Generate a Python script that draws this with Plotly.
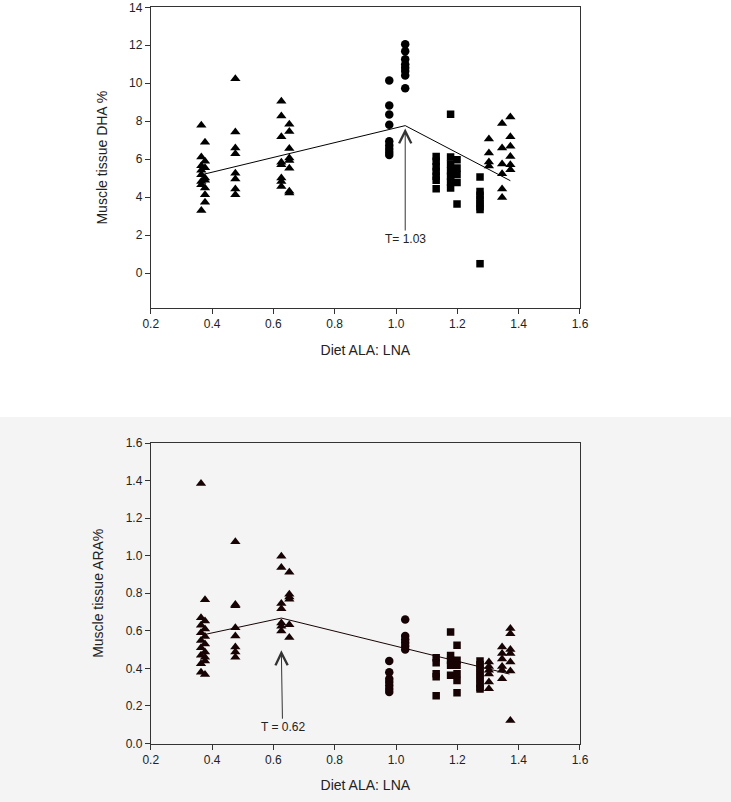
import plotly.graph_objects as go
from plotly.subplots import make_subplots

# ---- top panel: muscle tissue DHA % ----
dha_tri_x = [0.365] * 8 + [0.377] * 8 + [0.476] * 8 + [0.626] * 8 + [0.652] * 8 \
    + [1.303] * 4 + [1.346] * 6 + [1.373] * 6
dha_tri_y = [7.79, 6.12, 5.66, 5.42, 5.19, 4.83, 4.66, 3.30,
             6.89, 5.89, 5.55, 5.01, 4.9, 4.49, 4.13, 3.73,
             10.24, 7.44, 6.59, 6.29, 5.26, 4.96, 4.43, 4.13,
             9.06, 8.28, 7.18, 5.84, 5.71, 5.01, 4.83, 4.57,
             7.84, 7.46, 6.56, 6.07, 5.93, 5.52, 4.31, 4.22,
             7.07, 6.33, 5.86, 5.65,
             7.88, 6.59, 5.75, 5.24, 4.43, 3.99,
             8.23, 7.18, 6.68, 6.15, 5.71, 5.45]
dha_circ_x = [0.978] * 9 + [1.030] * 8
dha_circ_y = [10.15, 8.83, 8.35, 7.81, 6.95, 6.73, 6.54, 6.38, 6.23,
              12.05, 11.69, 11.26, 11.0, 10.82, 10.64, 10.41, 9.74]
dha_sq_x = [1.131] * 7 + [1.178] * 7 + [1.199] * 5 + [1.274] * 8
dha_sq_y = [6.15, 5.9, 5.6, 5.35, 5.1, 4.9, 4.45,
            8.37, 6.12, 5.75, 5.4, 5.1, 4.8, 4.49,
            5.98, 5.54, 5.2, 4.78, 3.65,
            5.07, 4.3, 4.1, 3.9, 3.7, 3.5, 3.35, 0.5]
dha_fit_x = [0.37, 1.03, 1.373]
dha_fit_y = [5.2, 7.77, 4.87]

# ---- bottom panel: muscle tissue ARA % ----
ara_tri_x = [0.364] * 9 + [0.377] * 9 + [0.476] * 8 + [0.626] * 7 + [0.652] * 6 \
    + [1.303] * 6 + [1.346] * 6 + [1.373] * 7
ara_tri_y = [1.385, 0.67, 0.63, 0.59, 0.549, 0.51, 0.47, 0.425, 0.38,
             0.766, 0.652, 0.61, 0.57, 0.53, 0.487, 0.46, 0.44, 0.368,
             1.074, 0.740, 0.733, 0.617, 0.572, 0.514, 0.487, 0.460,
             0.997, 0.937, 0.745, 0.718, 0.642, 0.624, 0.599,
             0.912, 0.795, 0.780, 0.768, 0.633, 0.565,
             0.434, 0.41, 0.39, 0.37, 0.327, 0.292,
             0.514, 0.48, 0.45, 0.41, 0.39, 0.345,
             0.612, 0.585, 0.500, 0.48, 0.434, 0.386, 0.123]
ara_circ_x = [0.978] * 7 + [1.030] * 6
ara_circ_y = [0.439, 0.380, 0.345, 0.327, 0.309, 0.29, 0.274,
              0.660, 0.572, 0.554, 0.537, 0.519, 0.501]
ara_sq_x = [1.131] * 5 + [1.178] * 5 + [1.199] * 6 + [1.274] * 9
ara_sq_y = [0.457, 0.43, 0.372, 0.355, 0.254,
            0.594, 0.469, 0.443, 0.417, 0.363,
            0.523, 0.443, 0.417, 0.372, 0.336, 0.270,
            0.44, 0.42, 0.40, 0.38, 0.36, 0.34, 0.32, 0.30, 0.29]
ara_fit_x = [0.377, 0.626, 1.37]
ara_fit_y = [0.581, 0.668, 0.37]

x_ticks = [0.2, 0.4, 0.6, 0.8, 1.0, 1.2, 1.4, 1.6]

font_family = "Arial, Liberation Sans, sans-serif"
axis_col = "#333333"
text_col = "#222222"

fig = make_subplots(rows=2, cols=1)


def add_panel(row, tri_x, tri_y, circ_x, circ_y, sq_x, sq_y, fit_x, fit_y, col):
    fig.add_trace(go.Scatter(x=fit_x, y=fit_y, mode="lines",
                             line=dict(color=col, width=1)), row=row, col=1)
    fig.add_trace(go.Scatter(x=tri_x, y=tri_y, mode="markers",
                             marker=dict(symbol="triangle-up", size=9, color=col)),
                  row=row, col=1)
    fig.add_trace(go.Scatter(x=circ_x, y=circ_y, mode="markers",
                             marker=dict(symbol="circle", size=8.5, color=col)),
                  row=row, col=1)
    fig.add_trace(go.Scatter(x=sq_x, y=sq_y, mode="markers",
                             marker=dict(symbol="square", size=7.5, color=col)),
                  row=row, col=1)


add_panel(1, dha_tri_x, dha_tri_y, dha_circ_x, dha_circ_y, dha_sq_x, dha_sq_y,
          dha_fit_x, dha_fit_y, "#000000")
add_panel(2, ara_tri_x, ara_tri_y, ara_circ_x, ara_circ_y, ara_sq_x, ara_sq_y,
          ara_fit_x, ara_fit_y, "#170303")

axis_style = dict(showline=True, linecolor=axis_col, linewidth=1, mirror=True,
                  ticks="outside", ticklen=5, tickcolor=axis_col, showgrid=False,
                  zeroline=False, tickfont=dict(size=12, color=text_col),
                  automargin=False)

fig.update_xaxes(axis_style)
fig.update_yaxes(axis_style)

fig.update_xaxes(range=[0.2, 1.6], tickvals=x_ticks, tickformat=".1f",
                 title=dict(text="Diet ALA: LNA", font=dict(size=14, color=text_col),
                            standoff=14))
fig.update_yaxes(range=[-1.83, 14], tickvals=[0, 2, 4, 6, 8, 10, 12, 14],
                 title=dict(text="Muscle tissue DHA %", font=dict(size=14, color=text_col),
                            standoff=18),
                 row=1, col=1)
fig.update_yaxes(range=[0, 1.6], dtick=0.2, tickformat=".1f",
                 title=dict(text="Muscle tissue ARA%", font=dict(size=14, color=text_col),
                            standoff=18),
                 row=2, col=1)

fig.update_layout(
    xaxis=dict(domain=[0.2062, 0.7934]),
    xaxis2=dict(domain=[0.2062, 0.7934]),
    yaxis=dict(domain=[0.6160, 0.9909]),
    yaxis2=dict(domain=[0.0729, 0.4476]),
)

# gray backdrop behind the lower chart
fig.add_shape(type="rect", xref="paper", yref="paper", x0=0, x1=1,
              y0=0, y1=0.48, fillcolor="#f4f4f4", line_width=0, layer="below")

# breakpoint arrows
fig.add_annotation(x=1.03, y=7.62, ax=1.03, ay=1.8, xref="x", yref="y", axref="x",
                   ayref="y", text="T= 1.03", showarrow=True, arrowhead=5,
                   arrowsize=2.4, arrowwidth=1, arrowcolor="#333333",
                   font=dict(size=12, color=text_col))
fig.add_annotation(x=0.626, y=0.496, ax=0.63, ay=0.087, xref="x2", yref="y2",
                   axref="x2", ayref="y2", text="T = 0.62", showarrow=True,
                   arrowhead=5, arrowsize=2.4, arrowwidth=1, arrowcolor="#333333",
                   font=dict(size=12, color=text_col))

fig.update_layout(
    template="none",
    width=731, height=802,
    margin=dict(l=0, r=0, t=0, b=0),
    paper_bgcolor="white",
    plot_bgcolor="rgba(0,0,0,0)",
    font=dict(family=font_family, color=text_col),
    showlegend=False,
)

fig.write_html("out.html", config={"displayModeBar": False},
               post_script="document.body.style.margin='0';"
                           "document.body.style.overflow='hidden';")
